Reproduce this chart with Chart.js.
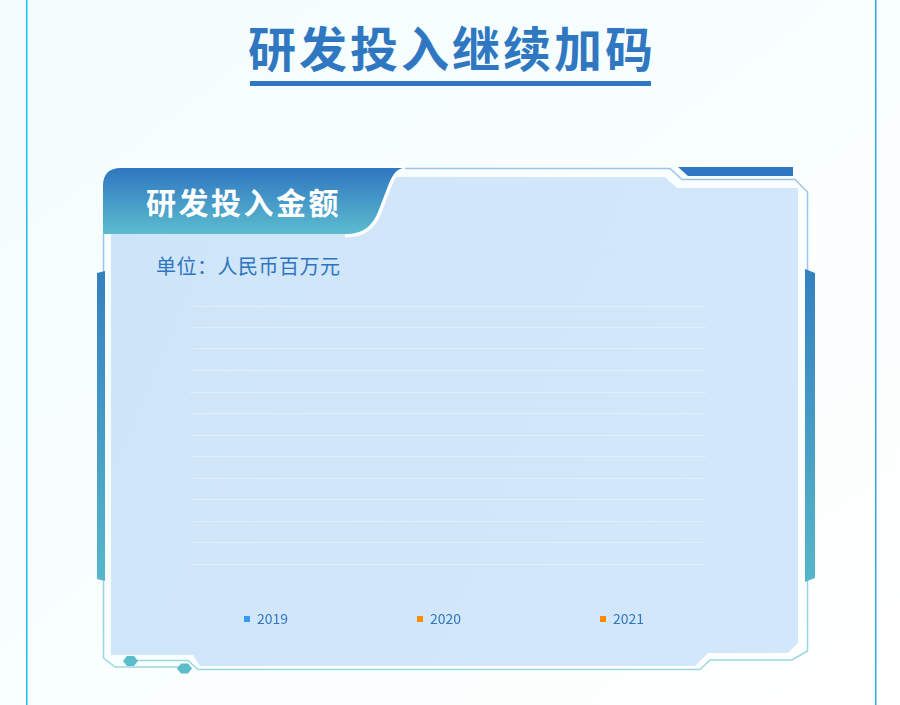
<!DOCTYPE html>
<html>
<head>
<meta charset="utf-8">
<script src="https://cdn.jsdelivr.net/npm/chart.js@4.4.0/dist/chart.umd.min.js"></script>
<style>
  html, body { margin:0; padding:0; }
  body { width:900px; height:705px; position:relative; overflow:hidden;
         font-family:"Noto Sans CJK SC","Noto Sans",sans-serif; background:#fafeff; }
  #deco { position:absolute; left:0; top:0; }
  .t { position:absolute; white-space:nowrap; }
  #title { left:248px; top:22px; font-size:48px; line-height:48px; font-weight:700;
           letter-spacing:3px; color:#2f78c1; }
  #head { left:146px; top:186px; font-size:30px; line-height:30px; font-weight:700;
          letter-spacing:2.5px; color:#ffffff; }
  #unit { left:156px; top:256px; font-size:20px; line-height:20px; letter-spacing:0.5px; color:#2f74c0; }
  #c { position:absolute; left:111px; top:290px; width:687px; height:360px; }
</style>
</head>
<body>
<svg id="deco" width="900" height="705" viewBox="0 0 900 705">
  <defs>
    <linearGradient id="bg" x1="0" y1="0" x2="1" y2="1">
      <stop offset="0" stop-color="#f3fdfe"/>
      <stop offset="1" stop-color="#ffffff"/>
    </linearGradient>
    <linearGradient id="hdr" x1="0" y1="0" x2="0" y2="1">
      <stop offset="0" stop-color="#2f76c0"/>
      <stop offset="1" stop-color="#5cbccf"/>
    </linearGradient>
    <linearGradient id="bar" x1="0" y1="0" x2="0" y2="1">
      <stop offset="0" stop-color="#3580c0"/>
      <stop offset="1" stop-color="#57b6ca"/>
    </linearGradient>
    <linearGradient id="line" x1="0" y1="0" x2="0" y2="1">
      <stop offset="0" stop-color="#9cc3e8"/>
      <stop offset="1" stop-color="#9ad7e0"/>
    </linearGradient>
    <linearGradient id="sheen" x1="0" y1="0" x2="1" y2="0.3">
      <stop offset="0" stop-color="#cee4f8"/>
      <stop offset="0.5" stop-color="#d1e7f9"/>
      <stop offset="1" stop-color="#d2e7f9"/>
    </linearGradient>
  </defs>
  <rect x="0" y="0" width="900" height="705" fill="url(#bg)"/>
  <rect x="26" y="0" width="1.5" height="705" fill="#18c2f4"/>
  <rect x="875" y="0" width="1.5" height="705" fill="#2aaee4"/>
  <rect x="250" y="81" width="401" height="5" fill="#2f78c1"/>

  <polygon points="111,177 665,177 677,188 798,188 798,643 788,653 708,653 695,666 200,666 193,655 111,655"
           fill="url(#sheen)"/>

  <polyline points="400,168.5 670,168.5 682,179.5 795,179.5 807.5,192 807.5,651 792,660 710,660 700,669.5 198,669.5 188,660.5 130,660.5"
            fill="none" stroke="url(#line)" stroke-width="1.5"/>
  <polyline points="103.5,234 103.5,658 115,667 185,667"
            fill="none" stroke="url(#line)" stroke-width="1.5"/>

  <polygon points="123,661 127,656 134,656 138,661 134,666 127,666" fill="#5bbccc"/>
  <polygon points="177,668.5 181,663.5 188,663.5 192,668.5 188,673.5 181,673.5" fill="#5bbccc"/>

  <polygon points="97,273 105,271 105,581 97,579" fill="url(#bar)"/>
  <polygon points="805,269 815,273 815,578 805,582" fill="url(#bar)"/>

  <polygon points="678,167 793,167 793,176 688,176" fill="#2f78c1"/>

  <path d="M405,168 C396,168 392,176 388,186 L378,212 C372,226 364,234 345,234"
        fill="none" stroke="#ffffff" stroke-width="7"/>
  <path d="M103,234 L103,186 Q103,168 121,168 L405,168 C396,168 392,176 388,186 L378,212 C372,226 364,234 345,234 Z"
        fill="url(#hdr)"/>
</svg>

<div class="t" id="title">研发投入继续加码</div>
<div class="t" id="head">研发投入金额</div>
<div class="t" id="unit">单位：人民币百万元</div>

<canvas id="c" width="687" height="360"></canvas>

<script>
// ---- data ----
const categories = ['研发投入金额'];
const seriesNames = ['2019', '2020', '2021'];
// No bars are visible in the reference: the series hold no drawn values.
const values2019 = [null];
const values2020 = [null];
const values2021 = [null];
const seriesColors = ['#3399ff', '#ff8c00', '#ff8c00'];
const yTickValues = [0, 1, 2, 3, 4, 5, 6, 7, 8, 9, 10, 11, 12];

Chart.defaults.font.family = '"Noto Sans CJK SC","Noto Sans",sans-serif';

// legend spread across the plot width, drawn from the chart's own datasets
const spreadLegend = {
  id: 'spreadLegend',
  afterDraw(chart) {
    const ctx = chart.ctx;
    const a = chart.chartArea;
    const fr = [0.105, 0.44, 0.795];
    const yy = a.bottom + 55;
    ctx.save();
    ctx.font = '14px "Noto Sans CJK SC","Noto Sans",sans-serif';
    ctx.textBaseline = 'middle';
    ctx.textAlign = 'left';
    chart.data.datasets.forEach((ds, i) => {
      const x = Math.round(a.left + fr[i] * (a.right - a.left));
      ctx.fillStyle = ds.backgroundColor;
      ctx.fillRect(x, yy - 3, 6, 6);
      ctx.fillStyle = '#3176c0';
      ctx.fillText(ds.label, x + 13, yy);
    });
    ctx.restore();
  }
};

new Chart(document.getElementById('c'), {
  type: 'bar',
  data: {
    labels: categories,
    datasets: [
      { label: seriesNames[0], data: values2019, backgroundColor: seriesColors[0] },
      { label: seriesNames[1], data: values2020, backgroundColor: seriesColors[1] },
      { label: seriesNames[2], data: values2021, backgroundColor: seriesColors[2] }
    ]
  },
  options: {
    responsive: false,
    maintainAspectRatio: false,
    animation: false,
    layout: { padding: { left: 79, right: 92, top: 16, bottom: 86 } },
    plugins: { legend: { display: false }, tooltip: { enabled: false } },
    scales: {
      x: { display: false },
      y: {
        min: yTickValues[0],
        max: yTickValues[yTickValues.length - 1],
        afterBuildTicks(scale) { scale.ticks = yTickValues.map(v => ({ value: v })); },
        ticks: { display: false },
        border: { display: false },
        grid: { color: 'rgba(255,255,255,0.32)', lineWidth: 1, drawTicks: false }
      }
    }
  },
  plugins: [spreadLegend]
});
</script>
</body>
</html>
